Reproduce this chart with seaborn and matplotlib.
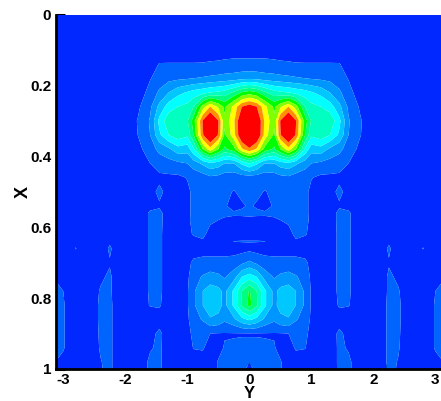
import numpy as np
import matplotlib
matplotlib.use('Agg')
import matplotlib.pyplot as plt
from matplotlib.ticker import MultipleLocator
import seaborn as sns

sns.set_style('white')
plt.rcParams['font.family'] = ['Liberation Sans', 'DejaVu Sans']

# half of the field, the other side is its mirror image
y_half = [0, .12, .25, .4, .5, .63, .75, .9, 1.0, 1.15, 1.3, 1.45, 1.6, 1.8, 1.95, 2.1, 2.25, 2.4, 2.6, 2.8, 3.0, 3.13]
x_vals = [0, .10, .14, .18, .22, .26, .30, .34, .38, .42, .46, .50, .54, .56, .58, .62, .64, .66,
          .70, .74, .78, .82, .86, .90, .94, .98, 1.0]
field = [
    [.3, .3, .3, .3, .3, .3, .3, .3, .3, .3, .3, .3, .3, .3, .3, .3, .3, .3, .3, .3, .3, .3],
    [.7, .7, .7, .7, .7, .6, .6, .5, .5, .5, .5, .4, .3, .2, .2, .2, .2, .2, .2, .2, .2, .2],
    [1.2, 1.2, 1.2, 1.15, 1.1, 1.1, 1.05, 1.05, 1.05, 1.05, 1.05, 1.05, .6, .3, .2, .2, .2, .2, .2, .2, .2, .2],
    [2.8, 2.7, 2.5, 2.4, 2.3, 2.2, 2.1, 2.0, 1.9, 1.8, 1.7, 1.4, .95, .4, .2, .2, .2, .2, .2, .2, .2, .2],
    [7.5, 7.1, 6.2, 5.4, 5.2, 5.0, 4.7, 4.4, 4.1, 3.7, 3.0, 2.2, 1.3, .5, .3, .2, .2, .2, .2, .2, .2, .2],
    [11.6, 11, 9.3, 7.8, 8.8, 10, 8.5, 6, 5.3, 5.0, 4.5, 3.3, 1.8, .8, .3, .2, .2, .2, .2, .2, .2, .2],
    [13, 12.2, 9.8, 8.2, 11.05, 12.5, 11.1, 7.5, 5.9, 5.6, 5.7, 4.3, 2.1, 1.05, .5, .3, .2, .2, .2, .2, .2, .2],
    [13, 12.2, 9.6, 7.8, 10.9, 12.5, 10.9, 7, 5.2, 5.6, 5.0, 3.8, 2, 1, .4, .3, .2, .2, .2, .2, .2, .2],
    [10.8, 9.8, 7.6, 6.8, 8, 9.6, 8, 4.8, 3.4, 3.6, 2.8, 2.3, 1.5, .7, .3, .2, .2, .2, .2, .2, .2, .2],
    [5, 4.2, 3, 3, 3.5, 3.8, 3.2, 2.5, 2, 1.8, 1.6, 1.4, 1.0, .4, .2, .2, .2, .2, .2, .2, .2, .2],
    [1.5, 1.5, 1.4, 1.5, 1.7, 1.8, 1.5, 1.3, 1.05, .8, .8, .8, .6, .3, .2, .2, .2, .2, .2, .2, .2, .2],
    [1.3, 1.2, .95, 1.2, 1.3, 1.3, 1.3, 1.2, .8, .6, .7, 1.2, .7, .3, .2, .2, .2, .2, .2, .2, .2, .2],
    [1.1, .9, .7, 1.1, 1.3, 1.3, 1.3, 1.2, .8, .6, .6, .9, .8, .4, .2, .2, .2, .2, .2, .2, .2, .2],
    [1.2, 1.15, 1.1, 1.15, 1.2, 1.3, 1.3, 1.2, .8, .6, .6, 1.2, 1.1, .5, .2, .2, .2, .2, .2, .2, .2, .2],
    [.8, .8, .85, .9, 1.0, 1.15, 1.3, 1.25, .8, .6, .6, 1.2, 1.1, .5, .2, .2, .2, .2, .2, .2, .2, .2],
    [.5, .5, .5, .5, .5, .7, 1.2, 1.1, .7, .5, .5, 1.2, 1.1, .5, .2, .2, .2, .2, .2, .2, .2, .2],
    [1.05, 1.05, 1.02, .6, .5, .6, .9, .6, .5, .5, .5, 1.2, 1.1, .5, .2, .2, .8, .2, .2, .7, .2, .2],
    [.7, .6, .6, .6, .6, .6, .6, .5, .5, .5, .5, 1.2, 1.1, .5, .2, .2, 1.2, .2, .2, 1.05, .2, .2],
    [2.2, 1.8, 1.4, 1.3, 1.3, 1.3, 1.3, 1.2, .7, .5, .5, 1.2, 1.1, .5, .2, .2, .9, .2, .2, .2, .2, .2],
    [4.5, 4, 2.6, 1.9, 2.2, 2.4, 2.1, 1.6, .8, .5, .5, 1.2, 1.1, .5, .2, .2, 1.2, .8, .2, .2, .2, .9],
    [7.1, 6, 4.2, 2.7, 3.3, 3.5, 3.0, 1.8, .9, .5, .5, 1.2, 1.1, .5, .2, .2, 1.2, 1.1, .2, .2, 1.0, 1.3],
    [7.3, 6.2, 4.2, 2.7, 3.4, 3.6, 3.0, 1.8, .9, .5, .5, 1.1, 1.05, .5, .2, .2, 1.3, 1.2, .2, .2, 1.1, 1.3],
    [4.2, 3.7, 2.8, 2.2, 2.7, 2.9, 2.1, 1.6, .8, .5, .5, .6, .5, .4, .2, .2, 1.3, 1.2, .2, .2, 1.1, 1.3],
    [.95, .95, .95, .95, .95, 1.0, 1.25, 1.3, .6, .5, .5, 1.2, .7, .3, .2, .2, 1.3, 1.15, .2, .2, 1.1, 1.3],
    [1.15, 1.15, 1.1, 1.05, .8, .6, 1.1, 1.05, .5, .4, .4, 1.2, .9, .3, .2, .2, 1.3, 1.1, .2, .2, 1.1, 1.3],
    [1.05, 1.2, 1.15, 1.1, 1.05, .7, .6, .5, .4, .4, .4, 1.2, 1.2, .3, .2, .2, 1.3, .95, .2, .2, .7, 1.0],
    [.8, 1.2, 1.2, 1.1, 1.05, .7, .5, .5, .4, .4, .4, 1.2, 1.2, .3, .2, .2, 1.3, .9, .2, .2, .5, .8],
]

band_colors = ['#0028ff', '#0064ff', '#0096ff', '#00c8ff', '#00ffff', '#00ffc0', '#00ff80',
               '#00ff00', '#80ff00', '#ffff00', '#ff9000', '#ff0000']
band_levels = [0, 1, 2, 3, 4, 5, 6, 7, 8, 9, 10, 11, 14]
x_ticks = [-3, -2, -1, 0, 1, 2, 3]
x_tick_labels = ['-3', '-2', '-1', '0', '1', '2', '3']
y_ticks = [0, .2, .4, .6, .8, 1]
y_tick_labels = ['0', '0.2', '0.4', '0.6', '0.8', '1']

half = np.array(field)
z = np.hstack([half[:, :0:-1], half])
y_all = np.r_[-np.array(y_half[:0:-1]), y_half]

fig = plt.figure(figsize=(4.41, 4.01), dpi=100)
ax = fig.add_axes([55.5 / 441, 1 - 369 / 401, (441 - 55.5) / 441, 354.5 / 401])
ax.contourf(y_all, x_vals, z, levels=band_levels, colors=sns.color_palette(band_colors), antialiased=True)

ax.set_xlim(-3.125, 3.09)
ax.set_ylim(1, 0)
ax.set_xticks(x_ticks, x_tick_labels, fontsize=11, fontweight='bold', color='black')
ax.set_yticks(y_ticks, y_tick_labels, fontsize=11, fontweight='bold', color='black')
ax.xaxis.set_minor_locator(MultipleLocator(.2))
ax.yaxis.set_minor_locator(MultipleLocator(.05))
ax.tick_params(which='major', direction='in', length=6.5, width=2.2, pad=3, color='black', left=True, bottom=True)
ax.tick_params(which='minor', direction='in', length=3.5, width=.8, color='black', left=True, bottom=True)
ax.set_xlabel('Y', fontsize=12, fontweight='bold', color='black')
ax.xaxis.set_label_coords(.5027, -.048)
ax.set_ylabel('X', fontsize=13, fontweight='bold', labelpad=-1, color='black')
sns.despine(ax=ax, top=True, right=True)
for side in ['left', 'bottom']:
    ax.spines[side].set_linewidth(2)
    ax.spines[side].set_color('black')

fig.savefig('out.png', dpi=100)
